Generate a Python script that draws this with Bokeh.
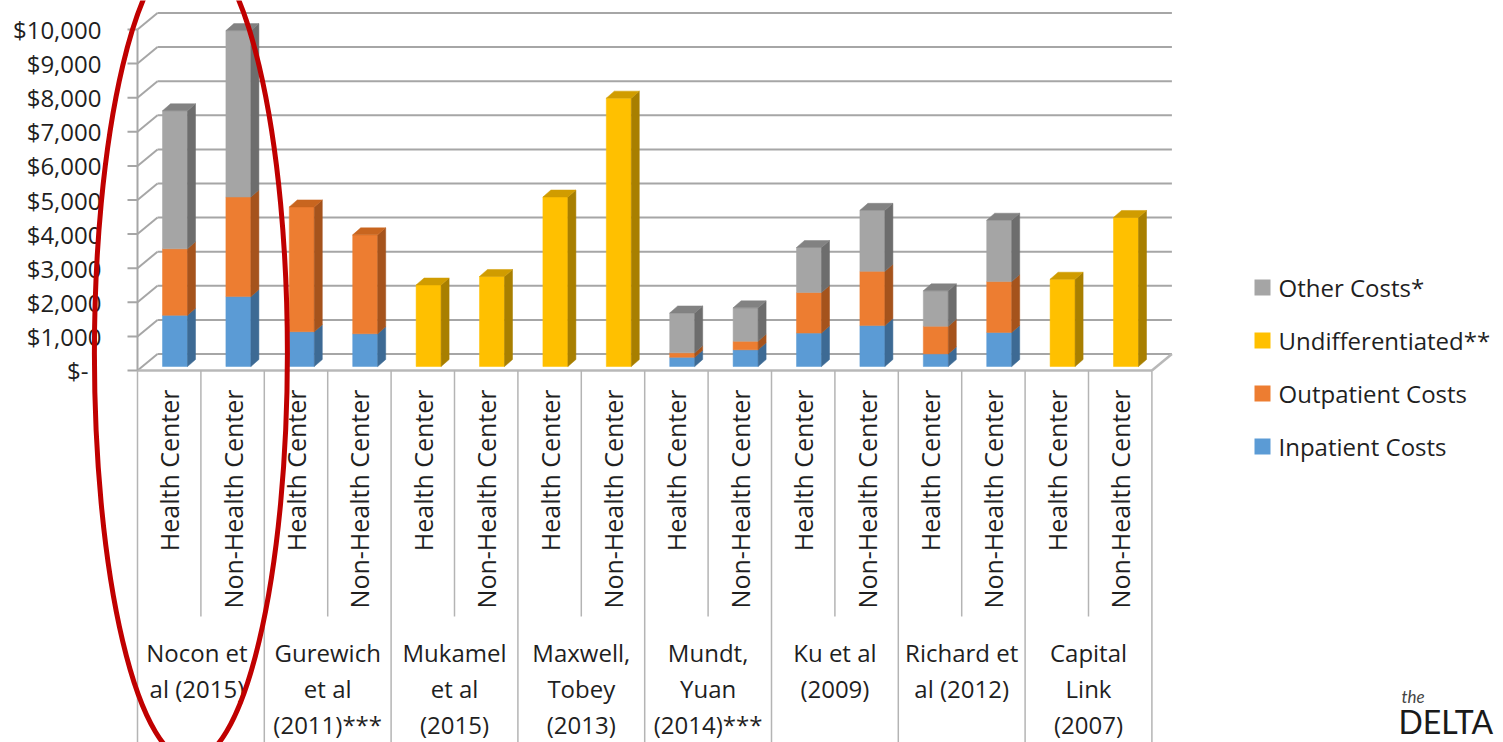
import numpy as np
from bokeh.plotting import figure
from bokeh.models import Range1d
from bokeh.embed import file_html
from bokeh.resources import INLINE
from bokeh.core.properties import value

# ---------------- data ----------------
study_lines = [
    ["Nocon et", "al (2015)"],
    ["Gurewich", "et al", "(2011)***"],
    ["Mukamel", "et al", "(2015)"],
    ["Maxwell,", "Tobey", "(2013)"],
    ["Mundt,", "Yuan", "(2014)***"],
    ["Ku et al", "(2009)"],
    ["Richard et", "al (2012)"],
    ["Capital", "Link", "(2007)"],
]
settings = ["Health Center", "Non-Health Center"]

inpatient = [1500, 2050, 1020, 960, 0, 0, 0, 0, 270, 490, 980, 1200, 370, 1000, 0, 0]
outpatient = [1950, 2920, 3660, 2900, 0, 0, 0, 0, 130, 250, 1190, 1590, 810, 1490, 0, 0]
undifferentiated = [0, 0, 0, 0, 2390, 2640, 4970, 7870, 0, 0, 0, 0, 0, 0, 2560, 4370]
other = [4050, 4880, 0, 0, 0, 0, 0, 0, 1170, 980, 1320, 1790, 1040, 1800, 0, 0]

series_names = ["Inpatient Costs", "Outpatient Costs", "Undifferentiated**", "Other Costs*"]
legend_order = ["Other Costs*", "Undifferentiated**", "Outpatient Costs", "Inpatient Costs"]

y_ticks = [0, 1000, 2000, 3000, 4000, 5000, 6000, 7000, 8000, 9000, 10000]
y_labels = ["$-", "$1,000", "$2,000", "$3,000", "$4,000", "$5,000",
            "$6,000", "$7,000", "$8,000", "$9,000", "$10,000"]

# ---------------- styles / layout ----------------
FRONT = {"Inpatient Costs": "#5b9bd5", "Outpatient Costs": "#ed7d31",
         "Undifferentiated**": "#ffc000", "Other Costs*": "#a5a5a5"}
SIDE = {"Inpatient Costs": "#3d6a94", "Outpatient Costs": "#a5531c",
        "Undifferentiated**": "#a87f00", "Other Costs*": "#6d6d6d"}
TOP = {"Inpatient Costs": "#4c84b8", "Outpatient Costs": "#c8651f",
       "Undifferentiated**": "#d09c00", "Other Costs*": "#828282"}
TXT = "#1f1f1f"
FONT = value("Open Sans")

W, H = 1503, 742
X0 = 137.0      # px of first slot's left edge
SLOT = 63.4     # px per category slot
Y0 = 370.0      # px of value 0 on the front plane
PPD = 0.0341    # px per dollar


def ux(px):      # horizontal pixel distance -> x units
    return px / SLOT


def dy(px):      # vertical pixel distance (upward) -> dollars
    return px / PPD


def ypix(py):    # absolute pixel row -> dollars
    return (Y0 - py) / PPD


def xpix(px):    # absolute pixel column -> x units
    return (px - X0) / SLOT


n = len(inpatient)
WX, WY = ux(20), dy(16.5)          # back wall offset
BAR_L, BAR_W = ux(25), ux(25)       # bar front face
BX, BY = ux(8), dy(7)               # bar depth offsets
BASE = dy(4)                        # bar front base above floor front

p = figure(width=W, height=H, output_backend="svg", toolbar_location=None,
           x_range=Range1d(xpix(0), xpix(W)), y_range=Range1d(ypix(H), ypix(0)),
           x_axis_location=None, y_axis_location=None, min_border=0,
           outline_line_color=None, background_fill_color="white",
           border_fill_color="white")
p.grid.visible = False

GRID = "#a6a6a6"
vmax = y_ticks[-1]
# back wall gridlines
p.multi_line(xs=[[WX, n + WX] for v in y_ticks], ys=[[v + WY, v + WY] for v in y_ticks],
             line_color=GRID, line_width=2)
# left wall slanted lines
p.multi_line(xs=[[0, WX] for v in y_ticks], ys=[[v, v + WY] for v in y_ticks],
             line_color=GRID, line_width=2)
# floor edges
p.multi_line(xs=[[0, n], [n, n + WX]], ys=[[0, 0], [0, WY]], line_color="#b8b8b8", line_width=2.5)
# front-left wall edge
p.segment(x0=[0], y0=[0], x1=[0], y1=[vmax], line_color=GRID, line_width=2)
# ticks
p.segment(x0=[-ux(10)] * len(y_ticks), y0=y_ticks, x1=[0] * len(y_ticks), y1=y_ticks,
          line_color=GRID, line_width=2)

# category table lines
TL = "#b4b4b4"
bx, by0, by1 = [], [], []
for b in range(n + 1):
    bx.append(b)
    by0.append(0)
    by1.append(ypix(H) if b % 2 == 0 else ypix(616))
p.segment(x0=bx, y0=by0, x1=bx, y1=by1, line_color=TL, line_width=1.5)

# ---------------- 3D stacked bars ----------------
data = {"Inpatient Costs": inpatient, "Outpatient Costs": outpatient,
        "Undifferentiated**": undifferentiated, "Other Costs*": other}
totals = np.sum([np.array(data[s], float) for s in series_names], axis=0)
bottoms = np.zeros(n)
for s in series_names:
    vals = np.array(data[s], float)
    mask = vals > 0
    idx = np.arange(n)[mask]
    left = idx + BAR_L
    right = left + BAR_W
    b = bottoms[mask] + BASE
    t = b + vals[mask]
    p.quad(left=left, right=right, bottom=b, top=t, fill_color=FRONT[s],
           line_color=FRONT[s], line_width=0.5)
    p.patches(xs=[[r, r + BX, r + BX, r] for r in right],
              ys=[[bb, bb + BY, tt + BY, tt] for bb, tt in zip(b, t)],
              fill_color=SIDE[s], line_color=SIDE[s], line_width=0.5)
    topmask = mask & np.isclose(bottoms + vals, totals)
    tidx = np.arange(n)[topmask]
    tl = tidx + BAR_L
    tr = tl + BAR_W
    tt = totals[topmask] + BASE
    p.patches(xs=[[a, a + BX, c + BX, c] for a, c in zip(tl, tr)],
              ys=[[v, v + BY, v + BY, v] for v in tt],
              fill_color=TOP[s], line_color=TOP[s], line_width=0.5)
    bottoms = bottoms + vals

# ---------------- texts ----------------
# y tick labels
p.text(x=[xpix(101)] * (len(y_ticks) - 1), y=y_ticks[1:], text=y_labels[1:],
       text_align="right", text_baseline="middle", text_font=FONT,
       text_font_size="24px", text_color=TXT)
p.text(x=[xpix(101)], y=y_ticks[:1], text=y_labels[:1], x_offset=-13,
       text_align="right", text_baseline="middle", text_font=FONT,
       text_font_size="24px", text_color=TXT)

# sub-category labels (rotated)
p.text(x=[i + 0.5 for i in range(n)], y=[ypix(389)] * n,
       text=[settings[i % 2] for i in range(n)], angle=np.pi / 2,
       text_align="right", text_baseline="middle", text_font=FONT,
       text_font_size="25px", text_color=TXT)

# group labels
gx, gy, gt = [], [], []
for g, lines in enumerate(study_lines):
    for k, line in enumerate(lines):
        gx.append(2 * g + 1 - (ux(4) if g == 0 else 0))
        gy.append(ypix(652 + 36 * k))
        gt.append(line)
p.text(x=gx, y=gy, text=gt, text_align="center", text_baseline="middle",
       text_font=FONT, text_font_size="24px", text_color=TXT)

# legend
LX, LY0, LDY = 1262, 287, 53
p.rect(x=[xpix(LX)] * 4, y=[ypix(LY0 + LDY * k) for k in range(4)],
       width=16, height=16, width_units="screen", height_units="screen",
       fill_color=[FRONT[s] for s in legend_order], line_color=None)
p.text(x=[xpix(LX + 16)] * 4, y=[ypix(LY0 + LDY * k) for k in range(4)],
       text=legend_order, text_align="left", text_baseline="middle",
       text_font=FONT, text_font_size="24px", text_color=TXT)

# red highlight ellipse around first study
p.ellipse(x=[1 - ux(10)], y=[ypix(353)], width=193, height=814,
          width_units="screen", height_units="screen", fill_color=None,
          line_color="#c00000", line_width=5)

# logo
p.text(x=[xpix(1401)], y=[ypix(696)], text=["the"], text_align="left",
       text_baseline="middle", text_font=value("Lato"), text_font_style="italic",
       text_font_size="17px", text_color="#444444")
p.text(x=[xpix(1398)], y=[ypix(721)], text=["DELTA"], text_align="left",
       text_baseline="middle", text_font=value("Lato"), text_font_size="32px",
       text_color="#1a1a1a")

open("out.html", "w").write(file_html(p, INLINE))
